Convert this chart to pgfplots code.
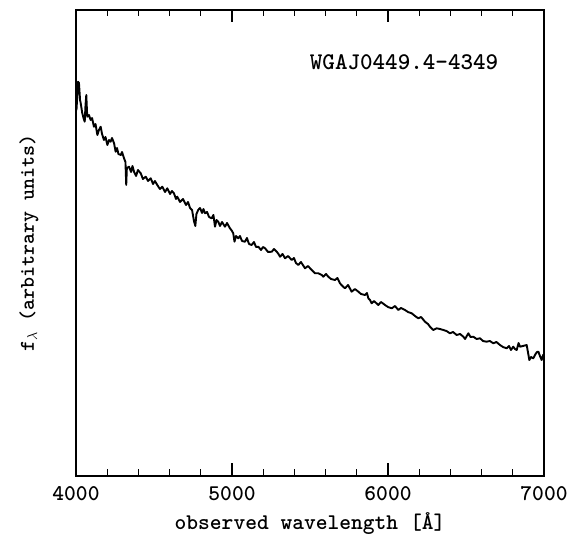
\documentclass[border=0pt]{standalone}
\usepackage{pgfplots}
\pgfplotsset{compat=1.18}
\pgfplotstableread{
lam f
4000 368
4003 366
4008 379.3
4013 394.3
4019 393
4026 376
4030 373
4040 363
4048 358
4056 354.3
4061 371
4066 381
4072 359.3
4083 361
4094 356
4103 358
4115 349.3
4125 352
4137 341
4147 346
4158 349.3
4167 342
4179 336
4189 339
4201 331
4212 336
4222 334.3
4231 338
4244 332.7
4254 324.3
4263 328
4272 322
4287 321
4295 324
4308 317.7
4317 314
4322 291
4326 308
4340 309.3
4353 304
4362 310
4372 304.3
4385 300
4397 306
4415 302.7
4429 297
4447 299.3
4462 295
4479 297.7
4494 292
4506 295
4521 291
4538 287
4553 289.3
4571 284
4585 287.7
4603 282
4615 285
4628 282.7
4641 277
4649 279.3
4667 274
4686 277
4705 271
4718 274
4731 268
4744 266
4756 255
4765 250
4772 262
4783 266
4795 268
4808 263
4817 267
4827 262.7
4840 264
4853 259
4870 257.7
4881 261
4891 249.3
4901 256
4912 254.3
4923 250
4936 254
4955 249.3
4968 253
4987 247.7
5000 245
5008 242.7
5016 234.3
5026 240
5040 237.7
5051 240
5064 235
5083 234.3
5096 238
5109 232
5126 231
5141 234
5154 229
5169 229.3
5186 226
5199 229
5212 227.7
5231 224
5255 224.3
5269 227
5287 224.3
5298 222
5308 219.3
5324 222
5340 217.7
5359 220
5383 216
5397 218
5410 213
5425 211
5442 214
5468 207.7
5487 210
5511 206
5532 202.7
5553 202.7
5575 201
5585 199.3
5603 202
5617 199.3
5635 197
5660 196
5676 198
5692 192.7
5708 190
5724 187.7
5744 191
5767 184.3
5788 187
5810 184.3
5827 182
5853 181
5865 183
5874 177.7
5885 176
5895 172.7
5910 175
5938 171
5955 174
5981 171
6000 169
6024 167.7
6045 170
6066 166
6083 168
6109 166
6128 164
6152 162.7
6173 160
6194 157.7
6212 159
6237 154.3
6256 152
6269 149.3
6290 146
6312 147.7
6333 147
6355 146
6375 145
6397 142.7
6417 144
6440 141
6462 142
6483 139.3
6494 137
6515 142.7
6529 139
6547 139.3
6568 137
6590 137.7
6609 135
6631 134.3
6653 135
6675 132.7
6695 134
6718 131
6737 129
6761 127.7
6776 130
6788 126
6803 129.3
6814 127
6825 126
6837 133
6846 129.3
6865 130
6889 131
6897 124
6906 116
6917 119
6931 117.7
6946 122
6955 124
6964 124.3
6974 120
6985 116
6994 121
7000 119.3
}\spec
\begin{document}
\begin{tikzpicture}
\useasboundingbox (0,0) rectangle (571bp,536bp);
\begin{axis}[
  at={(76bp,60bp)}, anchor=south west,
  scale only axis, width=468bp, height=466bp,
  xmin=4000, xmax=7000, ymin=0, ymax=466,
  xtick={4000,5000,6000,7000},
  xticklabels={4000,5000,6000,7000},
  minor x tick num=4,
  ytick=\empty,
  minor ytick={26,92.5,159,225.5,292,358.5,425},
  tick align=inside,
  major tick length=12.5bp,
  minor tick length=6.5bp,
  axis line style={line width=1.3bp, black},
  every tick/.style={line width=1.1bp, black},
  xticklabel style={font=\fontsize{22.5}{22.5}\selectfont\ttfamily\bfseries, yshift=-7bp},
  every axis x label/.style={at={(axis description cs:0.5,-0.103)}, anchor=center},
  every axis y label/.style={at={(axis description cs:-0.1004,0.5)}, rotate=90, anchor=center},
  xlabel={\fontsize{22.5}{22.5}\selectfont\ttfamily\bfseries observed wavelength [Å]},
  ylabel={\fontsize{21}{21}\selectfont\ttfamily\bfseries f$_{\lambda}$ (arbitrary units)},
  clip=true,
]
\addplot[black, line width=1.9bp, line join=round] table[x=lam, y=f] {\spec};
\node[anchor=center, font=\fontsize{24}{24}\selectfont\ttfamily\bfseries] at (axis description cs:0.701,0.888) {WGAJ0449.4—4349};
\end{axis}
\end{tikzpicture}
\end{document}
